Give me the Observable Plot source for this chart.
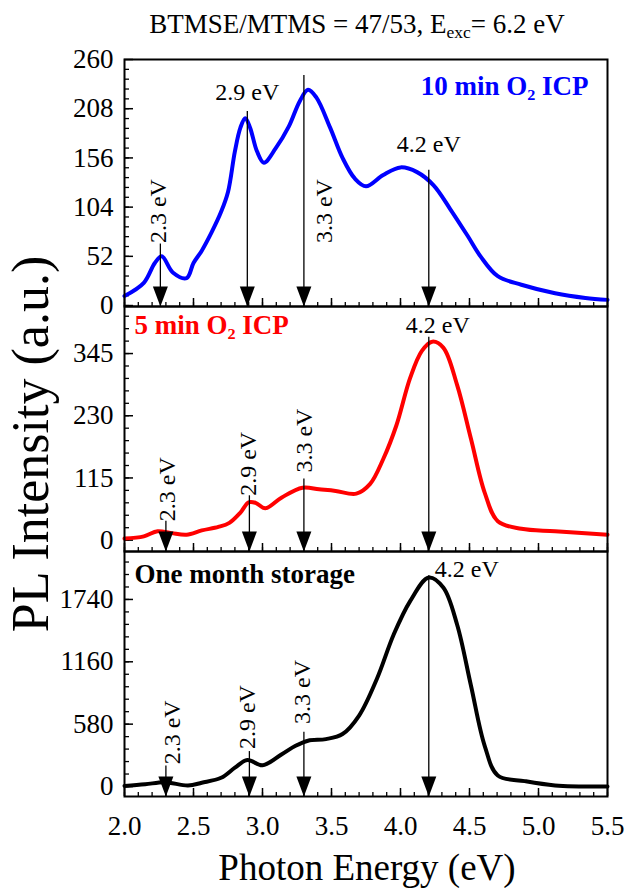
<!DOCTYPE html>
<html><head><meta charset="utf-8">
<script src="https://cdn.jsdelivr.net/npm/d3@7"></script>
<script src="https://cdn.jsdelivr.net/npm/@observablehq/plot@0.6"></script>
<style>
body{margin:0;background:#fff;}
#wrap{position:relative;width:627px;height:888px;font-family:"Liberation Serif",serif !important;color:#000;overflow:hidden;}
#wrap svg, #wrap svg text, #wrap div{font-family:"Liberation Serif",serif !important;}
.abs{position:absolute;white-space:nowrap;line-height:1;}
svg{background:transparent !important;}
</style></head><body><div id="wrap"></div>
<script>
// ---------- data ----------
const titleText = "BTMSE/MTMS = 47/53, E";
const xTitle = "Photon Energy (eV)";
const yTitle = "PL Intensity (a.u.)";
const xTickValues = [2.0, 2.5, 3.0, 3.5, 4.0, 4.5, 5.0, 5.5];

// 10 min O2 ICP (blue)
const e10 = [2.00,2.14,2.22,2.27,2.35,2.45,2.50,2.56,2.63,2.70,2.75,2.80,2.84,2.875,2.91,2.96,3.01,3.095,3.19,3.27,3.33,3.39,3.49,3.58,3.67,3.75,3.875,4.00,4.12,4.24,4.36,4.485,4.58,4.705,4.876,5.12,5.34,5.50];
const pl10 = [10,24,45,52,35,29,45,58,77,99,120,163,188,198,188,163,151,166,189,216,228,220,188,156,134,126,138,146,141,127,102,74,52,31,22,13,8,6];
const ticks10 = [0,52,104,156,208,260];
const peaks10E = [2.26, 2.89, 3.30, 4.205];
const peaks10Top = [65, 205, 243, 143];
const peaks10Label = ["2.3 eV","2.9 eV","3.3 eV","4.2 eV"];

// 5 min O2 ICP (red)
const e5 = [2.00,2.14,2.24,2.34,2.45,2.56,2.68,2.76,2.84,2.90,2.95,3.02,3.14,3.29,3.41,3.53,3.68,3.78,3.875,3.97,4.07,4.155,4.23,4.31,4.41,4.51,4.61,4.705,4.876,5.12,5.50];
const pl5 = [3,7,16.5,13,10,18,24.5,32,51,70,69,59,79,97,94,91,86,104,150,212,300,350,367,356,287,188,88,35,21,16.5,10];
const ticks5 = [0,115,230,345];
const peaks5E = [2.30, 2.905, 3.30, 4.205];
const peaks5Top = [35, 82, 113, 375];
const peaks5Label = ["2.3 eV","2.9 eV","3.3 eV","4.2 eV"];

// One month storage (black)
const eStore = [2.00,2.15,2.29,2.46,2.56,2.70,2.80,2.89,3.00,3.14,3.24,3.33,3.46,3.58,3.70,3.83,3.95,4.07,4.205,4.31,4.41,4.51,4.61,4.705,4.90,5.12,5.50];
const plStore = [5,20,40,10,35,81,175,247,197,300,379,426,441,488,660,1005,1412,1725,1944,1851,1507,942,379,103,50,10,0];
const ticksStore = [0,580,1160,1740];
const peaksStoreE = [2.30, 2.905, 3.30, 4.205];
const peaksStoreTop = [190, 325, 504, 1960];
const peaksStoreLabel = ["2.3 eV","2.9 eV","3.3 eV","4.2 eV"];

// ---------- layout ----------
const W = 627, ML = 124, MR = 20, PW = W - ML - MR;
const FONT = '"Liberation Serif", serif';
const wrap = document.getElementById("wrap");

const arrowHead = {draw(ctx){ ctx.moveTo(0,0); ctx.lineTo(-7.5,-20); ctx.lineTo(7.5,-20); ctx.closePath(); }};

function zip(xs, ys){ return xs.map((x,i)=>({x, y: ys[i]})); }

function panel({top, frameH, mTop, mBottom, domain, es, ys, color, ticks, minorStep, peaksE, peaksTop, peaksLabel, labelSpec, name, nameAnchor, nameDx, nameDy, xAxis}){
  const curve = zip(es, ys);
  const ymin = domain[0];
  const arrows = peaksE.map((e,i)=>({e, top: peaksTop[i], label: peaksLabel[i], tip: ymin}));
  const minor = d3.range(0, domain[1], minorStep).filter(v => v >= domain[0]);
  const xMinor = d3.range(2.0, 5.501, 0.1).map(v => +v.toFixed(2));
  const labelMarks = arrows.map((a,i)=>{
    const s = labelSpec[i];
    return Plot.text([{...a, ly: s.ly}], {x: "e", y: "ly", text: "label",
      rotate: s.rot ? -90 : 0,
      textAnchor: s.anchor || (s.rot ? "start" : "middle"), lineAnchor: "middle",
      dx: s.dx || 0, fontSize: 24, fill: "black"});
  });
  const marks = [
    Plot.tickX(xMinor, {x: d=>d, insetTop: frameH - 4, strokeWidth: 1.3}),
    Plot.tickX(xTickValues, {x: d=>d, insetTop: frameH - 8, strokeWidth: 1.5}),
    Plot.tickY(minor, {y: d=>d, insetRight: PW - 5, strokeWidth: 1.3}),
    Plot.tickY(ticks, {y: d=>d, insetRight: PW - 9, strokeWidth: 1.5}),
    Plot.axisY(ticks, {tickSize: 0, tickPadding: 11, fontSize: 27, tickFormat: d => String(d)}),
    Plot.line(curve, {x: "x", y: "y", stroke: color, strokeWidth: 4, curve: "catmull-rom"}),
    Plot.ruleX(arrows, {x: "e", y1: "top", y2: "tip", stroke: "black", strokeWidth: 1.3}),
    Plot.dot(arrows, {x: "e", y: "tip", symbol: arrowHead, fill: "black", stroke: null, r: 5}),
    ...labelMarks,
    Plot.text([name], {frameAnchor: nameAnchor, text: d=>d, dx: nameDx, dy: nameDy, textAnchor: nameAnchor.endsWith("right") ? "end" : "start", lineAnchor: "middle", fontSize: 27, fontWeight: "bold", fill: color}),
    Plot.frame({stroke: "black", strokeWidth: 2})
  ];
  if (xAxis) marks.push(Plot.axisX(xTickValues, {tickSize: 0, tickPadding: 19, tickFormat: d3.format(".1f"), fontSize: 27}));
  const p = Plot.plot({
    width: W, height: frameH + mTop + mBottom,
    marginLeft: ML, marginRight: MR, marginTop: mTop, marginBottom: mBottom,
    style: {fontFamily: FONT, fontSize: "27px", color: "black", background: "transparent", overflow: "visible"},
    x: {domain: [2, 5.5], axis: null},
    y: {domain},
    marks
  });
  p.style.position = "absolute";
  p.style.left = "0px";
  p.style.top = top + "px";
  p.style.fontFamily = FONT;
  wrap.appendChild(p);
  return p;
}

panel({top: 45, frameH: 247, mTop: 14, mBottom: 1, domain: [-1, 260], es: e10, ys: pl10, color: "#0000ff",
  ticks: ticks10, minorStep: 10.4, peaksE: peaks10E, peaksTop: peaks10Top, peaksLabel: peaks10Label,
  labelSpec: [{rot:true, ly:66, dx:-2},{rot:false, ly:225},{rot:true, ly:66, dx:20},{rot:false, ly:170}],
  name: "10 min O₂ ICP", nameAnchor: "top-right", nameDx: -19, nameDy: 27, xAxis: false});

panel({top: 292, frameH: 245, mTop: 14, mBottom: 1, domain: [-21, 432], es: e5, ys: pl5, color: "#ff0000",
  ticks: ticks5, minorStep: 23, peaksE: peaks5E, peaksTop: peaks5Top, peaksLabel: peaks5Label,
  labelSpec: [{rot:true, ly:35, dx:1},{rot:true, ly:82, dx:-1},{rot:true, ly:125, dx:0},{rot:false, ly:397, dx:9}],
  name: "5 min O₂ ICP", nameAnchor: "top-left", nameDx: 10, nameDy: 19, xAxis: false});

panel({top: 537, frameH: 245, mTop: 14, mBottom: 50, domain: [-93, 2186], es: eStore, ys: plStore, color: "#000000",
  ticks: ticksStore, minorStep: 116, peaksE: peaksStoreE, peaksTop: peaksStoreTop, peaksLabel: peaksStoreLabel,
  labelSpec: [{rot:true, ly:206, dx:6},{rot:true, ly:348, dx:-2},{rot:true, ly:582, dx:-2},{rot:false, ly:2023, dx:6, anchor:"start"}],
  name: "One month storage", nameAnchor: "top-left", nameDx: 10, nameDy: 23, xAxis: true});

// titles
const t = document.createElement("div");
t.className = "abs";
t.style.cssText = "left:357px;top:11px;transform:translateX(-50%);font-size:27px;";
t.innerHTML = titleText + '<sub style="font-size:65%;vertical-align:-0.3em">exc</sub>= 6.2 eV';
wrap.appendChild(t);

const xt = document.createElement("div");
xt.className = "abs";
xt.style.cssText = "left:367px;top:849px;transform:translateX(-50%);font-size:37px;";
xt.textContent = xTitle;
wrap.appendChild(xt);

const yt = document.createElement("div");
yt.className = "abs";
yt.style.cssText = "left:31px;top:444px;transform:translate(-50%,-50%) rotate(-90deg);font-size:52px;";
yt.textContent = yTitle;
wrap.appendChild(yt);
</script>
</body></html>
